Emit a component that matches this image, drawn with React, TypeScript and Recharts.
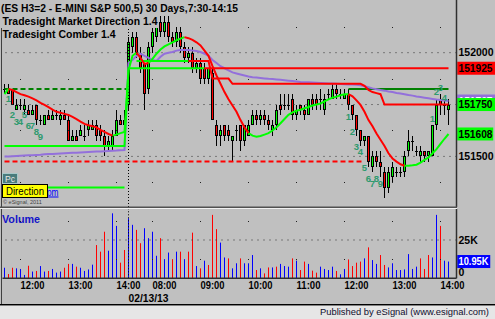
import React from 'react';
import { ComposedChart, Bar, Line, Scatter, XAxis, YAxis, ReferenceLine } from 'recharts';

const FONT = '"Liberation Sans", Arial, sans-serif';
const BG = '#C0C0C0';

// 5-minute bars: index 0 = 11:40 (02/12/13) ... index 31 = 07:30 (02/13/13) ... index 111 = 14:10
const barOpen = [
  151825, 151825, 151825, 151725, 151750, 151725, 151725, 151700, 151750, 151675,
  151650, 151700, 151675, 151700, 151675, 151700, 151675, 151575, 151600, 151600,
  151600, 151625, 151625, 151650, 151625, 151600, 151550, 151550, 151600, 151675,
  151675,
  151750, 152025, 152075, 152000, 151950, 151825, 152025, 152075, 152150, 152100,
  152150, 152075, 152050, 152100, 152025, 151975, 152000, 151925, 151950, 151925,
  151875, 151900, 151650, 151600, 151650, 151625, 151575, 151625, 151650, 151575,
  151600, 151650, 151700, 151675, 151700, 151675, 151625, 151650, 151750, 151750,
  151750, 151775, 151700, 151750, 151725, 151700, 151775, 151775, 151775, 151725,
  151800, 151775, 151825, 151800, 151775, 151800, 151750, 151700, 151625, 151575,
  151600, 151450, 151500, 151475, 151425, 151350, 151400, 151425, 151425, 151425,
  151525, 151575, 151525, 151500, 151525, 151500, 151500, 151650, 151775, 151750,
  151725,
];
const barHigh = [
  151850, 151850, 151825, 151775, 151775, 151775, 151750, 151750, 151750, 151700,
  151700, 151725, 151725, 151725, 151725, 151725, 151700, 151625, 151625, 151650,
  151650, 151675, 151675, 151675, 151650, 151625, 151600, 151625, 151725, 151700,
  151725,
  152075, 152100, 152100, 152025, 151950, 152050, 152125, 152175, 152175, 152175,
  152175, 152100, 152125, 152125, 152050, 152025, 152025, 151975, 151975, 151950,
  151925, 151925, 151675, 151650, 151650, 151650, 151600, 151650, 151650, 151650,
  151675, 151725, 151725, 151725, 151725, 151700, 151675, 151750, 151800, 151800,
  151800, 151800, 151750, 151750, 151750, 151775, 151800, 151800, 151825, 151800,
  151825, 151850, 151850, 151825, 151825, 151825, 151750, 151700, 151625, 151600,
  151600, 151525, 151525, 151525, 151450, 151450, 151475, 151450, 151450, 151525,
  151625, 151600, 151550, 151550, 151525, 151525, 151650, 151775, 151800, 151775,
  151775,
];
const barLow = [
  151800, 151800, 151750, 151725, 151725, 151700, 151700, 151700, 151650, 151650,
  151650, 151675, 151675, 151675, 151650, 151675, 151575, 151575, 151575, 151600,
  151575, 151600, 151625, 151575, 151575, 151500, 151525, 151525, 151600, 151650,
  151625,
  151725, 152000, 151975, 151900, 151725, 151800, 152000, 152050, 152075, 152075,
  152050, 152025, 152025, 152000, 151950, 151950, 151900, 151900, 151850, 151850,
  151850, 151675, 151550, 151550, 151575, 151575, 151475, 151575, 151525, 151550,
  151600, 151650, 151650, 151650, 151650, 151625, 151600, 151625, 151700, 151725,
  151725, 151675, 151675, 151700, 151675, 151700, 151725, 151725, 151725, 151700,
  151775, 151775, 151775, 151775, 151775, 151725, 151675, 151600, 151550, 151550,
  151450, 151425, 151450, 151400, 151300, 151325, 151375, 151400, 151400, 151400,
  151500, 151525, 151500, 151475, 151475, 151475, 151500, 151625, 151700, 151700,
  151650,
];
const barClose = [
  151825, 151800, 151750, 151750, 151750, 151750, 151700, 151725, 151675, 151675,
  151700, 151675, 151700, 151700, 151700, 151675, 151575, 151600, 151575, 151625,
  151600, 151650, 151650, 151600, 151600, 151550, 151575, 151600, 151675, 151650,
  151650,
  152050, 152075, 152000, 151925, 151800, 152025, 152100, 152150, 152100, 152150,
  152075, 152050, 152100, 152025, 151975, 152000, 151925, 151950, 151875, 151875,
  151925, 151675, 151600, 151625, 151600, 151600, 151600, 151625, 151575, 151650,
  151650, 151700, 151675, 151700, 151675, 151650, 151650, 151725, 151725, 151750,
  151750, 151700, 151725, 151725, 151700, 151775, 151750, 151750, 151775, 151775,
  151800, 151825, 151800, 151800, 151800, 151750, 151700, 151625, 151575, 151600,
  151475, 151500, 151475, 151450, 151350, 151425, 151450, 151425, 151425, 151500,
  151575, 151575, 151525, 151525, 151500, 151525, 151650, 151750, 151750, 151750,
  151750,
];
const barVolume = [
  6900, 2800, 6900, 6500, 6100, 2200, 8200, 4400, 4800, 8000,
  4400, 4800, 6100, 3700, 4400, 6900, 9400, 9400, 7600, 6900,
  4800, 5800, 8900, 21700, 17400, 30400, 18000, 42400, 34200, 10200,
  18500,
  39200, 34900, 31600, 22900, 32700, 26200, 30400, 14700, 26200, 12500,
  16800, 12500, 17400, 17400, 12500, 17400, 29800, 8000, 6500, 11500,
  8700, 41400, 32100, 23300, 13600, 13000, 6500, 9800, 13000, 9800,
  9800, 15200, 5400, 6500, 3200, 7100, 7100, 7600, 9400, 8000,
  7600, 13000, 11500, 5400, 10900, 9400, 5000, 3700, 7600, 6100,
  5400, 7600, 4800, 2600, 6100, 12300, 8000, 10200, 10900, 13000,
  20200, 11900, 9400, 15200, 8700, 7100, 9800, 5400, 5400, 5800,
  15800, 6100, 7600, 13000, 6100, 15200, 13600, 41400, 34200, 11500,
  10950,
];
// b = blue (up) volume bar, r = red (down) volume bar
const volumeDir =
  'brrbbbrbrb' + 'brbbbrrbrb' + 'bbbrrrbbbr' + 'r' +
  'bbrrbbbbrb' + 'brbrbrrbrb' + 'rrrbbrbbrb' + 'bbrbrrbrbb' + 'brbrrbrrbb' +
  'bbrbbrrrrb' + 'rbbrrbbbbb' + 'bbbrrrbbrb' + 'b';

// Tradesight Comber line (red above price, green below)
const comberLine = [
  151800, 151825, 151820, 151810, 151800, 151795, 151788, 151780, 151770, 151758,
  151748, 151737, 151725, 151715, 151710, 151705, 151700, 151690, 151680, 151668,
  151657, 151650, 151645, 151640, 151628, 151618, 151608, 151600, 151605, 151612,
  151618,
  151915, 151985, 152000, 151975, 151945, 151950, 151970, 151995, 152015, 152030,
  152040, 152050, 152060, 152068, 152075, 152070, 152062, 152050, 152035, 152010,
  151985, 151935, 151890, 151850, 151810, 151775, 151745, 151715, 151675, 151640,
  151612, 151600, 151595, 151598, 151605, 151612, 151625, 151640, 151660, 151680,
  151700, 151712, 151720, 151725, 151732, 151738, 151745, 151750, 151755, 151765,
  151775, 151783, 151788, 151795, 151800, 151800, 151790, 151770, 151748, 151715,
  151675, 151645, 151610, 151580, 151550, 151515, 151490, 151475, 151462, 151455,
  151455, 151457, 151460, 151470, 151483, 151495, 151515, 151535, 151560, 151585,
  151608,
];
const comberColorRuns: [string, number][] = [
  ['g', 1], ['r', 26], ['g', 6], ['r', 3], ['g', 9], ['r', 16], ['g', 25], ['r', 14], ['g', 12],
];
// purple average line
const avgLine = [
  151500, 151500, 151501, 151502, 151503, 151504, 151505, 151506, 151507, 151508,
  151510, 151511, 151512, 151513, 151514, 151515, 151516, 151517, 151518, 151519,
  151520, 151521, 151522, 151523, 151524, 151525, 151526, 151527, 151528, 151530,
  151531,
  151950, 151965, 151985, 151995, 151985, 151975, 151965, 151960, 151980, 151995,
  152000, 152003, 152010, 152013, 152013, 152013, 152010, 152008, 152003, 151995,
  151985, 151965, 151950, 151935, 151925, 151915, 151905, 151900, 151895, 151890,
  151885, 151882, 151880, 151878, 151876, 151874, 151873, 151871, 151869, 151867,
  151865, 151863, 151861, 151859, 151858, 151857, 151856, 151855, 151854, 151853,
  151852, 151851, 151850, 151849, 151848, 151847, 151846, 151845, 151843, 151838,
  151833, 151828, 151824, 151820, 151817, 151813, 151810, 151806, 151803, 151800,
  151796, 151793, 151789, 151786, 151783, 151780, 151777, 151774, 151772, 151769,
  151767,
];
// step levels as [level, number of bars]
const stopRuns: [number | null, number][] = [[151550, 31], [151925, 81]];
const stopColorRuns: [string, number][] = [['g', 50], ['r', 62]];
const bandRuns: [number | null, number][] = [
  [null, 33], [151960, 19], [151875, 5], [151850, 33], [151840, 1], [151820, 1],
  [151810, 1], [151805, 1], [151800, 1], [151750, 17],
];
const bandColorRuns: [string, number][] = [['g', 46], ['r', 66]];
const darkGreenDashRuns: [number | null, number][] = [[151825, 32], [null, 80]];
const darkGreenSolidRuns: [number | null, number][] = [[null, 86], [151825, 26]];
const redDashRuns: [number | null, number][] = [[151475, 91], [null, 21]];
const lowLimeRuns: [number | null, number][] = [[151350, 31], [null, 81]];

// count labels
const countBar = [1, 2, 3, 4, 5, 6, 7, 8, 9, 86, 87, 88, 89, 90, 91, 92, 93, 94, 107, 108, 109, 110];
const countText = ['1', '2', '3', '4', '5', '6', '7', '8', '9', '1', '2', '3', '4', '5', '6', '7', '8', '9', '1', '2', '3', '4'];
const countPos = [
  151777, 151700, 151666, 151666, 151700, 151647, 151647, 151618, 151594,
  151692, 151619, 151547, 151523, 151447, 151395, 151371, 151395, 151371,
  151684, 151812, 151833, 151785,
];

const hourTickBars = [4, 16, 28, 37, 49, 61, 73, 85, 97, 109];
const hourTickLabels = ['12:00', '13:00', '14:00', '08:00', '09:00', '10:00', '11:00', '12:00', '13:00', '14:00'];
const dayBreakBar = 31;
const dayBreakLabel = '02/13/13';

const priceAxisTicks = [151500, 152000];
const priceMajorGrid = [151500, 151750, 152000];
const priceMinorGrid = [151375, 151625, 151875, 152125];
const volumeAxisTicks = [0, 25000];
const volumeMajorGrid = [25000];
const volumeMinorGrid = [12500, 37500];

const priceDomain: [number, number] = [151256, 152254];
const volumeDomain: [number, number] = [0, 45230];
const barDomain: [number, number] = [-0.5, 113];

const titleLines = [
  '(ES H3=2 - E-MINI S&P 500,5) 30 Days,7:30-14:15',
  'Tradesight Market Direction 1.4',
  'Tradesight Comber 1.4',
];

// ---------- helpers ----------
function expand<T>(runs: [T, number][]): T[] {
  const out: T[] = [];
  runs.forEach(([v, n]) => {
    for (let k = 0; k < n; k++) out.push(v);
  });
  return out;
}
function pick(vals: (number | null)[], cols: string[], want: string) {
  return vals.map((v, i) => {
    if (v == null) return null;
    if (cols[i] === want) return v;
    if (i > 0 && cols[i - 1] === want && vals[i - 1] != null) return v;
    return null;
  });
}

const comberCols = expand(comberColorRuns);
const stopVals = expand(stopRuns);
const stopCols = expand(stopColorRuns);
const bandVals = expand(bandRuns);
const bandCols = expand(bandColorRuns);
const dgDash = expand(darkGreenDashRuns);
const dgSolid = expand(darkGreenSolidRuns);
const redDash = expand(redDashRuns);
const lowLime = expand(lowLimeRuns);

const tG = pick(comberLine, comberCols, 'g');
const tR = pick(comberLine, comberCols, 'r');
const sG = pick(stopVals, stopCols, 'g');
const sR = pick(stopVals, stopCols, 'r');
const bG = pick(bandVals, bandCols, 'g');
const bR = pick(bandVals, bandCols, 'r');

const rows = barOpen.map((o, i) => ({
  i,
  o,
  h: barHigh[i],
  l: barLow[i],
  c: barClose[i],
  range: [barLow[i], barHigh[i]],
  vol: barVolume[i],
  vdir: volumeDir[i],
  tG: tG[i],
  tR: tR[i],
  sG: sG[i],
  sR: sR[i],
  bG: bG[i],
  bR: bR[i],
  avg: avgLine[i],
  dgD: dgDash[i],
  dgS: dgSolid[i],
  rdD: redDash[i],
  lime2: lowLime[i],
}));

const countData = countBar.map((b, k) => ({ i: b, p: countPos[k], t: countText[k] }));
const priceGridDots = hourTickBars.flatMap((b) => priceMinorGrid.map((p) => ({ i: b, p })));
const volGridDots = hourTickBars.flatMap((b) => volumeMinorGrid.map((p) => ({ i: b, p })));
const allTicks = [...hourTickBars, dayBreakBar].sort((a, b) => a - b);

const last = barOpen.length - 1;
const lastClose = barClose[last];
const lastStop = stopVals[last] as number;
const lastComber = comberLine[last];
const lastAvg = avgLine[last];
const lastVol = barVolume[last];

// ---------- shapes ----------
const Candle = (props: any) => {
  const { x, y, width, height, payload } = props;
  if (!payload) return null;
  const top = Math.min(y, y + height);
  const h = Math.abs(height);
  const { o, c } = payload;
  const hi = payload.h;
  const lo = payload.l;
  const cx = Math.floor(x + width / 2) + 0.5;
  const span = hi - lo;
  const py = (p: number) => (span === 0 ? top : top + ((hi - p) / span) * h);
  const yT = Math.round(py(Math.max(o, c)));
  const yB = Math.round(py(Math.min(o, c)));
  const up = c > o;
  const down = c < o;
  return (
    <g>
      <line x1={cx} x2={cx} y1={Math.round(top)} y2={Math.round(top + h)} stroke="#000" strokeWidth={1} />
      {up || down ? (
        <rect x={cx - 1} y={yT + 0.5} width={2} height={Math.max(1, yB - yT - 1)} fill={up ? '#00FF00' : '#FF0000'} stroke="#000" strokeWidth={1} />
      ) : (
        <line x1={cx - 1.5} x2={cx + 1.5} y1={yT + 0.5} y2={yT + 0.5} stroke="#000" strokeWidth={1} />
      )}
    </g>
  );
};

const VolBar = (props: any) => {
  const { x, y, width, height, payload } = props;
  if (!payload) return null;
  const cx = Math.floor(x + width / 2);
  const top = Math.min(y, y + height);
  return <rect x={cx} y={top} width={1} height={Math.abs(height)} fill={payload.vdir === 'r' ? '#FF0000' : '#0000FF'} />;
};

const GridDot = (props: any) => (
  <rect x={Math.floor(props.cx)} y={Math.round(props.cy)} width={1} height={1} fill="#202020" />
);

const CountLabel = (props: any) => (
  <text x={props.cx} y={props.cy} textAnchor="middle" dominantBaseline="central" fontSize={9.5} fontWeight="bold" fill="#2E9A6E" fontFamily={FONT}>
    {props.payload.t}
  </text>
);

const PriceTick = (props: any) => {
  const { x, y, payload } = props;
  return (
    <text x={x} y={y} dy="0.36em" fontSize={10.5} fontWeight="bold" fill="#000" fontFamily={FONT} textAnchor="start">
      {payload.value}
    </text>
  );
};

const VolTick = (props: any) => {
  const { x, y, payload } = props;
  const v = payload.value;
  const txt = v === 0 ? '0' : `${Math.round(v / 1000)}K`;
  return (
    <text x={x} y={v === 0 ? y - 6 : y} dy="0.36em" fontSize={10.5} fontWeight="bold" fill="#000" fontFamily={FONT} textAnchor="start">
      {txt}
    </text>
  );
};

const TimeTick = (props: any) => {
  const { x, y, payload } = props;
  const v = payload.value;
  if (v === dayBreakBar) {
    return (
      <text x={x} y={y + 23.4} fontSize={10.5} fontWeight="bold" fill="#000" fontFamily={FONT} textLength={40} lengthAdjust="spacingAndGlyphs">
        {dayBreakLabel}
      </text>
    );
  }
  const idx = hourTickBars.indexOf(v);
  return (
    <text x={x} y={y + 11} fontSize={10.5} fontWeight="bold" fill="#000" fontFamily={FONT} textLength={24} lengthAdjust="spacingAndGlyphs">
      {hourTickLabels[idx]}
    </text>
  );
};

const makeTag = (text: string, bg: string, fg: string, w: number, tl: number) => (props: any) => {
  const vb = props.viewBox || {};
  const x0 = (vb.x ?? 0) + (vb.width ?? 0);
  const yy = vb.y ?? 0;
  return (
    <g>
      <rect x={x0 + 0.75} y={yy - 6.5} width={w} height={13} fill={bg} />
      <text x={x0 + 2} y={yy} dy="0.36em" fontSize={10.5} fontWeight="bold" fill={fg} fontFamily={FONT} textLength={tl} lengthAdjust="spacingAndGlyphs">
        {text}
      </text>
    </g>
  );
};

const lineProps = { dot: false, activeDot: false, isAnimationActive: false, type: 'linear' as const, strokeWidth: 2 };

function PriceChart() {
  return (
    <ComposedChart width={495} height={207} data={rows} margin={{ top: 0, right: 0, bottom: 0, left: 2.5 }}>
      <XAxis type="number" dataKey="i" domain={barDomain} ticks={allTicks} hide allowDataOverflow />
      <YAxis
        type="number"
        orientation="right"
        domain={priceDomain}
        ticks={priceAxisTicks}
        allowDataOverflow
        width={38.5}
        tickSize={0}
        tickMargin={2}
        tickLine={false}
        interval={0}
        axisLine={{ stroke: '#303030', strokeWidth: 1.5 }}
        tick={<PriceTick />}
      />
      {priceMajorGrid.map((v) => (
        <ReferenceLine key={'pg' + v} y={v} stroke="#303030" strokeDasharray="1 5" />
      ))}
      <ReferenceLine x={dayBreakBar} stroke="#000" strokeDasharray="1 2" />
      <Scatter data={priceGridDots} dataKey="p" shape={GridDot} isAnimationActive={false} />
      <Line dataKey="rdD" stroke="#FF0000" strokeDasharray="5 3" {...lineProps} />
      <Line dataKey="dgD" stroke="#008000" strokeDasharray="5 3" {...lineProps} />
      <Line dataKey="dgS" stroke="#008000" {...lineProps} />
      <Line dataKey="lime2" stroke="#00FF00" {...lineProps} />
      <Line dataKey="avg" stroke="#9370DB" {...lineProps} />
      <Line dataKey="sG" stroke="#00FF00" {...lineProps} />
      <Line dataKey="sR" stroke="#FF0000" {...lineProps} />
      <Line dataKey="bG" stroke="#00FF00" {...lineProps} />
      <Line dataKey="bR" stroke="#FF0000" {...lineProps} />
      <Line dataKey="tG" stroke="#00FF00" {...lineProps} />
      <Line dataKey="tR" stroke="#FF0000" {...lineProps} />
      <Bar dataKey="range" barSize={4} shape={Candle} isAnimationActive={false} />
      <Scatter data={countData} dataKey="p" shape={CountLabel} isAnimationActive={false} />
      <ReferenceLine y={lastStop} stroke="none" label={makeTag(String(lastStop), '#FF0000', '#000', 38, 34)} />
      <ReferenceLine y={lastAvg} stroke="none" label={makeTag(String(lastAvg), '#9370DB', '#FFF', 38, 34)} />
      <ReferenceLine y={lastClose} stroke="none" label={makeTag(String(lastClose), '#00FF00', '#000', 38, 34)} />
      <ReferenceLine y={lastComber} stroke="none" label={makeTag(String(lastComber), '#00FF00', '#000', 36, 34)} />
    </ComposedChart>
  );
}

function VolumeChart() {
  return (
    <ComposedChart width={495} height={97} data={rows} margin={{ top: 1, right: 0, bottom: 0, left: 2.5 }}>
      <XAxis
        type="number"
        dataKey="i"
        domain={barDomain}
        ticks={allTicks}
        interval={0}
        allowDataOverflow
        height={26.7}
        tickSize={0}
        tickMargin={0}
        tickLine={false}
        axisLine={{ stroke: '#303030', strokeWidth: 1.5 }}
        tick={<TimeTick />}
      />
      <YAxis
        type="number"
        orientation="right"
        domain={volumeDomain}
        ticks={volumeAxisTicks}
        allowDataOverflow
        width={38.5}
        tickSize={0}
        tickMargin={2}
        tickLine={false}
        interval={0}
        axisLine={{ stroke: '#303030', strokeWidth: 1.5 }}
        tick={<VolTick />}
      />
      {volumeMajorGrid.map((v) => (
        <ReferenceLine key={'vg' + v} y={v} stroke="#303030" strokeDasharray="1 5" />
      ))}
      <ReferenceLine x={dayBreakBar} stroke="#000" strokeDasharray="1 2" />
      <Scatter data={volGridDots} dataKey="p" shape={GridDot} isAnimationActive={false} />
      <Bar dataKey="vol" barSize={4} shape={VolBar} isAnimationActive={false} />
      <ReferenceLine y={lastVol} stroke="none" label={makeTag(`${(lastVol / 1000).toFixed(2)}K`, '#0000FF', '#FFF', 33, 30)} />
    </ComposedChart>
  );
}

export default function App() {
  return (
    <div style={{ position: 'fixed', left: 0, top: 0, width: 495, height: 319, background: BG, overflow: 'hidden' }}>
      <div style={{ position: 'absolute', left: 0, top: 0 }}>
        <PriceChart />
      </div>
      <div style={{ position: 'absolute', left: 0, top: 208 }}>
        <VolumeChart />
      </div>
      <svg width={495} height={319} style={{ position: 'absolute', left: 0, top: 0, pointerEvents: 'none' }}>
        <rect x={1} y={0} width={1} height={304} fill="#404040" />
        <rect x={0} y={206.5} width={457} height={1.5} fill="#505050" />
        <rect x={0} y={208} width={457} height={1} fill="#F0F0F0" />
        {/* titles */}
        <rect x={0} y={0} width={239} height={14} fill={BG} />
        <rect x={0} y={14} width={159} height={14} fill={BG} />
        <text x={1} y={12} fontSize={11} fontWeight="bold" fontFamily={FONT} fill="#000" textLength={237} lengthAdjust="spacingAndGlyphs">{titleLines[0]}</text>
        <text x={2.5} y={25} fontSize={11} fontWeight="bold" fontFamily={FONT} fill="#000" textLength={155} lengthAdjust="spacingAndGlyphs">{titleLines[1]}</text>
        <text x={2.5} y={38} fontSize={11} fontWeight="bold" fontFamily={FONT} fill="#000" textLength={113} lengthAdjust="spacingAndGlyphs">{titleLines[2]}</text>
        {/* bottom-left widgets */}
        <text x={4} y={195.5} fontSize={10} fontFamily={FONT} fill="#0000FF" textDecoration="underline" textLength={54.5} lengthAdjust="spacingAndGlyphs">tradesight.com</text>
        <rect x={2.5} y={173.5} width={15} height={10} fill="#4A7C7C" stroke="#A8C8C8" strokeWidth={1} />
        <text x={10} y={181.5} fontSize={8.5} fontFamily={FONT} fill="#E8E8E8" textAnchor="middle">Pc</text>
        <rect x={2.5} y={184.5} width={45} height={13} fill="#FFFF00" stroke="#000" strokeWidth={1} />
        <text x={6} y={195} fontSize={11} fontFamily={FONT} fill="#000" textLength={38} lengthAdjust="spacingAndGlyphs">Direction</text>
        <text x={3} y={204} fontSize={5.5} fontFamily={FONT} fill="#404040">© eSignal, 2011</text>
        <text x={2} y={222.5} fontSize={11} fontWeight="bold" fontFamily={FONT} fill="#1414C8" textLength={38} lengthAdjust="spacingAndGlyphs">Volume</text>
        {/* footer */}
        <rect x={0} y={304} width={495} height={1} fill="#000" />
        <rect x={0} y={305} width={495} height={1} fill="#808080" />
        <rect x={0} y={306} width={495} height={13} fill="#E6E6E6" />
        <text x={489} y={314.5} fontSize={9.5} fontFamily={FONT} fill="#101030" textAnchor="end" textLength={169} lengthAdjust="spacingAndGlyphs">Published by eSignal (www.esignal.com)</text>
      </svg>
    </div>
  );
}
